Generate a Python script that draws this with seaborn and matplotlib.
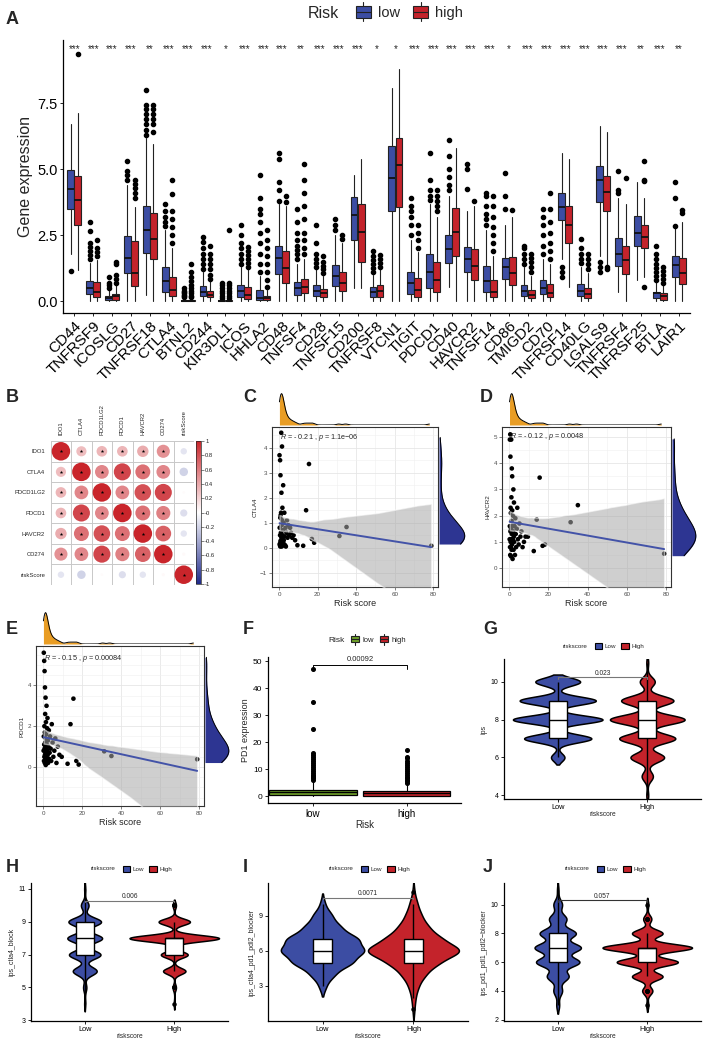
import numpy as np
import pandas as pd
import matplotlib
matplotlib.use("Agg")
import matplotlib.pyplot as plt
import seaborn as sns
from matplotlib import font_manager
from matplotlib.patches import Rectangle, Patch
from matplotlib.lines import Line2D
from matplotlib.legend_handler import HandlerBase
from matplotlib.colors import LinearSegmentedColormap, Normalize
from matplotlib.cm import ScalarMappable
from matplotlib.ticker import MultipleLocator

sns.set_theme(style="white")
plt.rcParams["font.family"] = ["Liberation Sans", "DejaVu Sans"]
plt.rcParams["mathtext.fontset"] = "custom"
plt.rcParams["mathtext.it"] = "Liberation Sans:italic"
plt.rcParams["mathtext.rm"] = "Liberation Sans"


def has_font(name):
    try:
        font_manager.findfont(name, fallback_to_default=False)
        return True
    except Exception:
        return False


HAS_NARROW = has_font("Liberation Sans Narrow")
NARROW = ["Liberation Sans Narrow", "Liberation Sans", "DejaVu Sans"] if HAS_NARROW else ["Liberation Sans", "DejaVu Sans"]

# ---------------- data: panel A ----------------
genes = ["CD44", "TNFRSF9", "ICOSLG", "CD27", "TNFRSF18", "CTLA4", "BTNL2", "CD244",
         "KIR3DL1", "ICOS", "HHLA2", "CD48", "TNFSF4", "CD28", "TNFSF15", "CD200",
         "TNFRSF8", "VTCN1", "TIGIT", "PDCD1", "CD40", "HAVCR2", "TNFSF14", "CD86",
         "TMIGD2", "CD70", "TNFRSF14", "CD40LG", "LGALS9", "TNFRSF4", "TNFRSF25", "BTLA", "LAIR1"]
signif = ["***", "***", "***", "***", "**", "***", "***", "***", "*", "***", "***", "***", "**",
          "***", "***", "***", "*", "*", "***", "***", "***", "***", "***", "*", "***", "***",
          "***", "***", "***", "***", "**", "***", "**"]
low_q1 = [3.51, 0.27, 0.04, 1.07, 1.84, 0.33, 0.0, 0.2, 0.0, 0.16, 0.04, 1.02, 0.25, 0.2, 0.57, 2.31,
          0.16, 3.41, 0.27, 0.48, 1.46, 1.12, 0.35, 0.83, 0.19, 0.27, 3.09, 0.2, 3.74, 1.33, 2.1, 0.1, 0.92]
low_med = [4.27, 0.48, 0.1, 1.62, 2.69, 0.78, 0.01, 0.34, 0.01, 0.37, 0.1, 1.62, 0.48, 0.39, 0.96, 3.28,
           0.33, 4.68, 0.67, 1.09, 1.97, 1.58, 0.77, 1.3, 0.37, 0.5, 3.57, 0.38, 4.58, 1.77, 2.6, 0.29, 1.36]
low_q3 = [4.96, 0.76, 0.2, 2.46, 3.6, 1.3, 0.04, 0.56, 0.03, 0.63, 0.44, 2.1, 0.72, 0.6, 1.36, 3.95,
          0.52, 5.87, 1.09, 1.77, 2.5, 2.06, 1.33, 1.65, 0.63, 0.8, 4.1, 0.64, 5.11, 2.4, 3.22, 0.35, 1.7]
low_wlo = [1.8, 0, 0, 0, 0.25, 0, 0, 0, 0, 0, 0, 0, 0, 0, 0, 0.5, 0, 0, 0, 0, 0.55, 0, 0, 0, 0, 0,
           1.6, 0, 1.7, 0.35, 0.8, 0, 0]
low_whi = [6.7, 1.45, 0.42, 4.4, 6.2, 2.7, 0.1, 1.1, 0.08, 1.3, 0.95, 3.7, 1.4, 1.2, 2.5, 4.8, 1.0,
           8.09, 2.3, 3.7, 4.0, 3.4, 2.7, 2.9, 1.3, 1.6, 5.6, 1.3, 6.63, 3.9, 4.5, 0.72, 2.8]
low_out = [[1.13], [1.6, 1.75, 1.9, 2.05, 2.2, 2.65, 3.0], [0.5, 0.6, 0.7, 0.9],
           [4.6, 4.8, 4.95, 5.3], [6.3, 6.5, 6.7, 6.9, 7.1, 7.3, 7.45, 8.0], [2.85, 3.0, 3.2, 3.4, 3.7],
           [0.15, 0.2, 0.25, 0.3, 0.35, 0.4, 0.5], [1.2, 1.4, 1.6, 1.8, 2.0, 2.25, 2.45],
           [0.12, 0.2, 0.3, 0.4, 0.5, 0.6, 0.7], [1.4, 1.6, 1.8, 2.0, 2.2, 2.5, 2.9],
           [1.1, 1.4, 1.8, 2.2, 2.6, 3.0, 3.3, 3.5, 3.9, 4.8], [3.8, 4.2, 4.5, 5.4, 5.6],
           [1.6, 1.8, 1.95, 2.1, 2.3, 2.6, 3.0, 3.5], [1.3, 1.45, 1.6, 1.8, 2.2, 2.9], [2.7, 2.9, 3.1],
           [], [1.1, 1.25, 1.4, 1.55, 1.7, 1.9], [], [2.5, 2.9, 3.2, 3.4, 3.6, 3.9],
           [3.85, 4.0, 4.2, 4.6, 5.6], [4.2, 4.4, 4.7, 5.0, 5.5, 6.1], [4.25, 5.0, 5.2],
           [2.9, 3.1, 3.3, 3.6, 4.0, 4.1], [3.5, 4.0, 4.85], [1.4, 1.6, 1.8, 2.0, 2.1],
           [1.8, 2.1, 2.5, 2.9, 3.2, 3.5], [0.9, 1.1, 1.3], [1.45, 1.6, 1.8, 2.0, 2.35],
           [1.1, 1.3, 1.5], [4.1, 4.2, 4.95], [], [0.8, 0.95, 1.1, 1.25, 1.4, 1.6, 1.8, 2.1], [2.85, 3.9, 4.5]]
high_q1 = [2.9, 0.16, 0.05, 0.57, 1.58, 0.2, 0.0, 0.14, 0.0, 0.08, 0.03, 0.67, 0.32, 0.14, 0.37, 1.49,
           0.16, 3.55, 0.16, 0.33, 1.7, 0.82, 0.16, 0.63, 0.1, 0.14, 2.22, 0.1, 3.41, 1.01, 2.0, 0.04, 0.64]
high_med = [3.85, 0.33, 0.18, 1.07, 2.37, 0.44, 0.01, 0.25, 0.01, 0.24, 0.1, 1.26, 0.54, 0.29, 0.69, 2.63,
            0.39, 5.15, 0.42, 0.8, 2.63, 1.33, 0.34, 1.07, 0.23, 0.32, 2.88, 0.27, 4.14, 1.55, 2.44, 0.2, 1.05]
high_q3 = [4.75, 0.73, 0.28, 2.27, 3.35, 0.92, 0.04, 0.39, 0.03, 0.54, 0.19, 1.9, 0.83, 0.47, 1.11, 3.7,
           0.61, 6.17, 0.86, 1.5, 3.52, 1.97, 0.8, 1.68, 0.44, 0.64, 3.62, 0.48, 4.75, 2.1, 2.9, 0.29, 1.64]
high_wlo = [1.17, 0, 0, 0, 0, 0, 0, 0, 0, 0, 0, 0, 0, 0, 0, 0.5, 0, 0, 0, 0, 0, 0, 0, 0, 0, 0,
            0.55, 0, 1.35, 0, 0.9, 0, 0]
high_whi = [7.13, 1.55, 0.6, 3.57, 5.95, 2.0, 0.1, 0.75, 0.08, 1.2, 0.42, 3.6, 1.6, 0.95, 2.2, 5.4, 1.2,
            8.81, 1.85, 3.2, 5.8, 3.6, 1.7, 3.2, 0.95, 1.4, 5.4, 1.05, 6.4, 3.7, 3.9, 0.6, 3.0]
high_out = [[9.38], [1.7, 1.85, 2.0, 2.3], [0.7, 0.85, 1.0, 1.4, 1.5], [3.9, 4.1, 4.3, 4.45, 4.6],
            [6.4, 6.7, 6.9, 7.1, 7.3, 7.45], [2.2, 2.5, 2.8, 3.1, 3.4, 4.05, 4.6],
            [0.15, 0.2, 0.3, 0.4, 0.5, 0.6, 0.75, 0.9, 1.1, 1.4], [0.85, 1.0, 1.2, 1.4, 1.6, 1.8, 2.1],
            [0.12, 0.2, 0.3, 0.4, 0.5, 0.6, 0.7, 2.7], [1.3, 1.45, 1.6, 1.75, 1.9, 2.05],
            [0.55, 0.8, 1.1, 1.4, 1.7, 2.0, 2.3, 2.7], [3.75, 4.0],
            [1.8, 2.0, 2.3, 2.6, 3.1, 3.6, 4.1, 4.6, 5.2], [1.05, 1.2, 1.35, 1.5, 1.7], [2.35, 2.5],
            [], [1.3, 1.45, 1.6, 1.75], [], [2.0, 2.3, 2.6, 2.9], [3.4, 3.6, 3.8, 4.0, 4.2], [],
            [3.8], [1.9, 2.2, 2.5, 2.8, 3.2, 3.6, 4.0], [3.45], [1.1, 1.3, 1.5, 1.65, 1.8],
            [1.6, 1.9, 2.2, 2.6, 3.0, 3.5, 4.1], [], [1.2, 1.4, 1.6, 1.8], [1.2, 1.3], [4.65],
            [0.55, 4.55, 4.6, 5.3], [0.7, 0.85, 1.0, 1.15, 1.3], [3.35, 3.45]]

# ---------------- data: panel B ----------------
corr_labels = ["IDO1", "CTLA4", "PDCD1LG2", "PDCD1", "HAVCR2", "CD274", "riskScore"]
corr_matrix = [
    [1.00, 0.30, 0.33, 0.33, 0.38, 0.50, -0.12],
    [0.30, 1.00, 0.55, 0.85, 0.65, 0.55, -0.21],
    [0.33, 0.55, 1.00, 0.55, 0.80, 0.85, 0.02],
    [0.33, 0.85, 0.55, 1.00, 0.65, 0.58, -0.15],
    [0.38, 0.65, 0.80, 0.65, 1.00, 0.72, -0.12],
    [0.50, 0.55, 0.85, 0.58, 0.72, 1.00, 0.03],
    [-0.12, -0.21, 0.02, -0.15, -0.12, 0.03, 1.00],
]
corr_star = [
    [1, 1, 1, 1, 1, 1, 0], [1, 1, 1, 1, 1, 1, 0], [1, 1, 1, 1, 1, 1, 0], [1, 1, 1, 1, 1, 1, 0],
    [1, 1, 1, 1, 1, 1, 0], [1, 1, 1, 1, 1, 1, 0], [0, 0, 0, 0, 0, 0, 1]]

# ---------------- data: panels C, D, E ----------------
risk_score = [0.2, 0.3, 0.3, 0.4, 0.5, 0.5, 0.6, 0.6, 0.7, 0.7, 0.8, 0.8, 0.9, 0.9, 1.0, 1.0, 1.1, 1.1,
              1.2, 1.2, 1.3, 1.3, 1.4, 1.5, 1.5, 1.6, 1.7, 1.8, 1.9, 2.0, 2.1, 2.2, 2.3, 2.4, 2.5, 2.7,
              2.9, 3.1, 3.3, 3.5, 3.8, 4.1, 4.4, 4.8, 5.2, 5.7, 6.2, 6.8, 7.5, 8.3,
              9.5, 12.5, 14.0, 15.5, 17.0, 18.2, 31.3, 35.0, 79.0]
ctla4 = [3.7, 0.15, 0.8, 0.1, 3.5, 0.5, 0.05, 1.2, 2.9, 0.25, 0.1, 1.3, 0.6, 0.3, 0.1, 1.4, 4.6, 0.45,
         0.15, 2.2, 0.9, 0.05, 0.4, 4.05, 1.1, 0.1, 1.6, 0.5, 0.25, 0.7, 2.5, 0.1, 1.0, 0.3, 0.15, 1.4,
         0.45, 0.1, 0.8, 0.05, 0.6, 1.1, 0.4, 0.9, 0.5, 0.8, 0.6, 0.4, 0.5, 0.3,
         0.1, 0.08, 1.5, 3.35, 0.35, 0.2, 0.47, 0.83, 0.08]
havcr2 = [1.1, 4.9, 1.6, 0.8, 5.1, 0.5, 4.25, 1.4, 2.3, 1.0, 0.8, 2.1, 1.5, 0.45, 4.9, 1.1, 2.7, 1.4,
          0.7, 1.8, 1.3, 3.8, 0.9, 3.5, 2.2, 1.6, 0.35, 1.1, 2.0, 1.4, 3.0, 0.7, 1.2, 2.5, 1.0, 1.6,
          0.5, 1.9, 1.3, 0.8, 1.5, 2.3, 1.1, 0.9, 1.7, 1.2, 1.4, 0.8, 1.0, 1.2,
          1.2, 0.65, 1.85, 3.45, 0.85, 0.9, 1.75, 2.4, 0.55]
pdcd1 = [0.8, 5.6, 1.5, 0.3, 5.2, 1.1, 0.5, 2.0, 4.7, 0.9, 0.2, 1.7, 3.9, 0.6, 1.2, 2.6, 0.4, 1.0,
         3.4, 0.7, 1.4, 0.1, 2.2, 0.9, 1.6, 0.5, 3.0, 1.1, 0.3, 1.9, 0.8, 2.4, 0.6, 1.3, 0.2, 1.0,
         1.8, 0.4, 0.7, 1.5, 0.9, 0.3, 2.1, 1.2, 0.5, 0.8, 1.4, 0.2, 1.0, 0.6,
         0.5, 0.16, 2.1, 3.35, 0.3, 0.12, 0.77, 0.54, 0.38]

# ---------------- data: panel F ----------------
pd1_groups = ["low", "high"]
pd1_q1 = [0.4, 0.2]
pd1_med = [1.6, 1.2]
pd1_q3 = [2.5, 2.0]
pd1_wlo = [0.0, 0.0]
pd1_whi = [5.8, 4.6]
pd1_out = [[6.2, 6.6, 7.0, 7.5, 8.0, 8.6, 9.2, 10.0, 10.8, 11.5, 12.3, 13.0, 13.8, 14.5, 15.3, 16.0, 25.0, 35.0, 47.0],
           [5.0, 5.5, 6.0, 6.6, 7.2, 7.9, 8.6, 9.3, 10.0, 10.8, 11.6, 12.4, 13.2, 14.0, 14.5, 17.0]]

# ---------------- data: panels G-J (counts of samples per IPS score) ----------------
G_scores = [4, 5, 6, 7, 8, 9, 10, 11]
G_low = [0, 0, 6, 30, 40, 34, 20, 0]
G_high = [1, 6, 18, 30, 40, 28, 8, 1]
H_scores = [3, 4, 5, 6, 7, 8, 9, 10, 11]
H_low = [0, 1, 3, 22, 29, 32, 30, 7, 1]
H_high = [0, 1, 3, 20, 24, 80, 28, 3, 0]
I_scores = [1, 2, 3, 4, 5, 6, 7, 8, 9, 10, 11]
I_low = [0, 0, 3, 10, 25, 35, 30, 15, 8, 2, 0]
I_high = [1, 2, 5, 12, 25, 50, 28, 15, 8, 4, 1]
J_scores = [2, 3, 4, 5, 6, 7, 8, 9, 10, 11]
J_low = [0, 2, 6, 15, 30, 32, 25, 12, 6, 1]
J_high = [0, 1, 5, 15, 30, 44, 15, 4, 1, 0]

# ---------------- styling ----------------
BLUE = "#3C4DA3"
RED = "#C4232B"
GREEN = "#6FA12A"
ORANGE = "#E99D24"
NAVY = "#2D3592"
LINEBLUE = "#4353A8"

W, H = 706, 1039
fig = plt.figure(figsize=(W / 100, H / 100), dpi=100)
fig.patch.set_facecolor("white")


def add_ax(x0, y0, x1, y1):
    return fig.add_axes([x0 / W, 1 - y1 / H, (x1 - x0) / W, (y1 - y0) / H])


def panel_label(x, y, s):
    fig.text(x / W, 1 - y / H, s, fontsize=13, fontweight="bold", ha="left", va="center")


class BoxKey(HandlerBase):
    def create_artists(self, legend, orig_handle, xdescent, ydescent, width, height, fontsize, trans):
        fc = orig_handle.get_facecolor()
        x0, y0 = -xdescent, -ydescent
        cx = x0 + width / 2
        whisk = Line2D([cx, cx], [y0 - 0.35 * height, y0 + 1.35 * height], color="#222222", lw=0.8, transform=trans)
        rect = Rectangle((x0, y0), width, height, facecolor=fc, edgecolor="#222222", lw=0.8, transform=trans)
        med = Line2D([x0, x0 + width], [y0 + height / 2] * 2, color="#222222", lw=0.8, transform=trans)
        return [whisk, rect, med]


def classic_axes(ax, fs):
    for s in ["top", "right"]:
        ax.spines[s].set_visible(False)
    for s in ["left", "bottom"]:
        ax.spines[s].set_color("black")
        ax.spines[s].set_linewidth(0.9)
    ax.tick_params(axis="both", direction="out", length=2.5, width=0.6, labelsize=fs, pad=1.5,
                   colors="black", bottom=True, left=True)
    ax.set_facecolor("white")


# ================= Panel A =================
panel_label(6, 19, "A")
axA = add_ax(63, 40, 690, 313)
nA = len(genes)
posA = np.arange(nA)


def make_stats(q1, med, q3, lo, hi, out):
    return [dict(q1=a, med=b, q3=c, whislo=d, whishi=e, fliers=f) for a, b, c, d, e, f in zip(q1, med, q3, lo, hi, out)]


for stats, off, col in [(make_stats(low_q1, low_med, low_q3, low_wlo, low_whi, low_out), -0.1875, BLUE),
                        (make_stats(high_q1, high_med, high_q3, high_wlo, high_whi, high_out), 0.1875, RED)]:
    axA.bxp(stats, positions=posA + off, widths=0.36, patch_artist=True, showcaps=False, manage_ticks=False,
            boxprops=dict(facecolor=col, edgecolor="#222222", linewidth=0.8),
            medianprops=dict(color="#111111", linewidth=1.3),
            whiskerprops=dict(color="#222222", linewidth=0.8),
            flierprops=dict(marker="o", markerfacecolor="black", markeredgecolor="black", markersize=3.0))
axA.set_xlim(-0.6, nA - 0.4)
axA.set_ylim(-0.45, 9.9)
axA.set_xticks(posA)
axA.set_yticks([0, 2.5, 5, 7.5])
classic_axes(axA, 11)
axA.set_yticklabels(["0.0", "2.5", "5.0", "7.5"], family=NARROW, fontsize=12 if HAS_NARROW else 10.5)
axA.set_xticklabels(genes, rotation=45, ha="right", rotation_mode="anchor", family=NARROW,
                    fontsize=13.5 if HAS_NARROW else 11)
axA.set_ylabel("Gene expression", fontsize=13 if HAS_NARROW else 11.5, family=NARROW, labelpad=3)
for i, s in enumerate(signif):
    axA.text(i, 9.55, s, ha="center", va="center", fontsize=7)
fig.text(308 / W, 1 - 13 / H, "Risk", fontsize=13 if HAS_NARROW else 11.5, family=NARROW, va="center", ha="left")
fig.legend([Patch(facecolor=BLUE), Patch(facecolor=RED)], ["low", "high"], loc="center left",
           bbox_to_anchor=(343 / W, 1 - 13 / H), ncol=2, frameon=False, handlelength=1.0, handleheight=0.8,
           handletextpad=0.5, columnspacing=0.9, handler_map={Patch: BoxKey()},
           prop=dict(family=NARROW, size=11.5 if HAS_NARROW else 10.5))

# ================= Panel B =================
panel_label(6, 397, "B")
axB = add_ax(50.7, 441, 194, 585)
cmap = LinearSegmentedColormap.from_list("corr", ["#1F2A8A", "#FFFFFF", "#C9252B"])
nB = len(corr_labels)
cm = np.array(corr_matrix)
rows, cols = np.meshgrid(np.arange(nB), np.arange(nB), indexing="ij")
dfB = pd.DataFrame({"row": rows.ravel(), "col": cols.ravel(), "r": cm.ravel(), "absr": np.abs(cm).ravel()})
sns.scatterplot(data=dfB, x="col", y="row", hue="r", palette=cmap, hue_norm=(-1, 1), size="absr",
                sizes=(0, 178), size_norm=(0, 1), legend=False, edgecolor="none", linewidth=0, ax=axB)
st = np.array(corr_star).ravel() == 1
axB.scatter(cols.ravel()[st], rows.ravel()[st], marker="*", s=7, color="black", linewidths=0, zorder=5)
for k in range(nB + 1):
    axB.axhline(k - 0.5, color="#C8C8C8", lw=0.7, zorder=0)
    axB.axvline(k - 0.5, color="#C8C8C8", lw=0.7, zorder=0)
axB.set_xlim(-0.5, nB - 0.5)
axB.set_ylim(nB - 0.5, -0.5)
axB.set_xticks(range(nB))
axB.set_yticks(range(nB))
axB.set_xticklabels(corr_labels, rotation=90, fontsize=4.2)
axB.set_yticklabels(corr_labels, fontsize=4.2)
axB.xaxis.tick_top()
axB.tick_params(length=0, pad=4)
axB.set_xlabel("")
axB.set_ylabel("")
for s in axB.spines.values():
    s.set_visible(False)
caxB = add_ax(196, 441, 201, 584)
cb = fig.colorbar(ScalarMappable(norm=Normalize(-1, 1), cmap=cmap), cax=caxB)
tks = np.round(np.arange(-1, 1.01, 0.2), 1)
cb.set_ticks(tks)
cb.set_ticklabels([f"{t:g}" for t in tks])
cb.ax.tick_params(labelsize=4.2, length=2, width=0.4, pad=1)
cb.outline.set_linewidth(0.5)


# ================= Panels C, D, E =================
def scatter_panel(main, top, right, yvals, ylab, rtext, ylim, yticks, rtext_y):
    ax = add_ax(*main)
    ax.set_facecolor("white")
    x = np.array(risk_score)
    y = np.array(yvals)
    sns.scatterplot(x=x, y=y, ax=ax, color="black", s=11, edgecolor="none", linewidth=0, zorder=2)
    ncoll = len(ax.collections)
    sns.regplot(x=x, y=y, ax=ax, scatter=False, ci=95, n_boot=400, seed=3, color="grey",
                line_kws=dict(lw=0, alpha=0))
    for c in ax.collections[ncoll:]:
        c.set_facecolor("#A8A8A8")
        c.set_alpha(0.55)
        c.set_zorder(3)
    sns.regplot(x=x, y=y, ax=ax, scatter=False, ci=None, color=LINEBLUE, line_kws=dict(lw=1.4, zorder=4))
    ax.set_xlim(-3.7, 82.5)
    ax.set_ylim(*ylim)
    ax.set_xticks([0, 20, 40, 60, 80])
    ax.set_yticks(yticks)
    ax.xaxis.set_minor_locator(MultipleLocator(10))
    ax.yaxis.set_minor_locator(MultipleLocator(0.5 if ylim[1] - ylim[0] < 8 else 1))
    ax.grid(True, which="major", color="#E6E6E6", lw=0.6)
    ax.grid(True, which="minor", color="#F0F0F0", lw=0.4)
    ax.set_axisbelow(True)
    for s in ax.spines.values():
        s.set_color("#333333")
        s.set_linewidth(0.8)
    ax.tick_params(axis="both", which="major", length=2, width=0.5, labelsize=4.5, colors="#4D4D4D",
                   pad=1.5, bottom=True, left=True)
    ax.tick_params(axis="both", which="minor", length=0)
    ax.set_xlabel("Risk score", fontsize=6.5, labelpad=1.5)
    ax.set_ylabel(ylab, fontsize=4.5, labelpad=2)
    ax.text(0.5, rtext_y, rtext, fontsize=5.2, ha="left", va="center")
    axt = add_ax(*top)
    sns.kdeplot(x=x, ax=axt, fill=True, color=ORANGE, alpha=1, bw_adjust=0.22, cut=0, linewidth=0)
    sns.kdeplot(x=x, ax=axt, fill=False, color="black", bw_adjust=0.22, cut=0, linewidth=0.7)
    axt.set_xlim(-3.7, 82.5)
    axt.set_ylim(bottom=0)
    axt.axis("off")
    axr = add_ax(*right)
    sns.kdeplot(y=y, ax=axr, fill=True, color=NAVY, alpha=1, cut=0, linewidth=0)
    sns.kdeplot(y=y, ax=axr, fill=False, color="black", cut=0, linewidth=0.7)
    axr.set_ylim(*ylim)
    axr.set_xlim(left=0)
    axr.axis("off")
    return ax


panel_label(243, 397, "C")
scatter_panel((272, 427, 438, 587), (272, 392, 436, 425), (439, 432, 466, 582), ctla4, "CTLA4",
              "$R$ = - 0.21 , $p$ = 1.1e\u221206", (-1.57, 4.83), [-1, 0, 1, 2, 3, 4], 4.4)
panel_label(480, 397, "D")
scatter_panel((502, 427, 671, 587), (502, 392, 668, 425), (672, 432, 697, 582), havcr2, "HAVCR2",
              "$R$ = - 0.12 , $p$ = 0.0048", (-0.72, 5.38), [0, 1, 2, 3, 4, 5], 5.0)
panel_label(6, 629, "E")
scatter_panel((36, 646, 204, 806), (36, 611, 200, 644), (205, 651, 230, 801), pdcd1, "PDCD1",
              "$R$ = - 0.15 , $p$ = 0.00084", (-1.91, 5.93), [0, 2, 4], 5.3)

# ================= Panel F =================
panel_label(243, 629, "F")
axF = add_ax(268, 657, 461, 803)
statsF = make_stats(pd1_q1, pd1_med, pd1_q3, pd1_wlo, pd1_whi, pd1_out)
for i, (st_, col) in enumerate(zip(statsF, [GREEN, RED])):
    axF.bxp([st_], positions=[i], widths=0.93, patch_artist=True, showcaps=False, manage_ticks=False,
            boxprops=dict(facecolor=col, edgecolor="black", linewidth=0.9),
            medianprops=dict(color="black", linewidth=1.0),
            whiskerprops=dict(color="black", linewidth=0.8),
            flierprops=dict(marker="o", markerfacecolor="black", markeredgecolor="black", markersize=2.6))
axF.set_xlim(-0.48, 1.58)
axF.set_ylim(-2.5, 51.6)
axF.set_xticks([0, 1])
axF.set_xticklabels(pd1_groups)
axF.set_yticks([0, 10, 20, 30, 40, 50])
classic_axes(axF, 6)
axF.tick_params(axis="x", labelsize=7)
axF.set_xlabel("Risk", fontsize=7, labelpad=1)
axF.set_ylabel("PD1 expression", fontsize=6.5, labelpad=2)
axF.plot([0, 0, 1, 1], [47.3, 48.8, 48.8, 47.3], color="black", lw=0.7)
axF.text(0.5, 49.2, "0.00092", ha="center", va="bottom", fontsize=5.5)
fig.text(328 / W, 1 - 640 / H, "Risk", fontsize=6, va="center", ha="left")
fig.legend([Patch(facecolor=GREEN), Patch(facecolor=RED)], ["low", "high"], loc="center left",
           bbox_to_anchor=(344 / W, 1 - 640 / H), ncol=2, frameon=False, handlelength=1.0, handleheight=0.9,
           handletextpad=0.5, columnspacing=0.8, fontsize=5.5, handler_map={Patch: BoxKey()})


# ================= Panels G-J =================
def violin_panel(box, scores, lowc, highc, ylab, ylim, yticks, pval, py, bw, pcolor, leg_x, leg_y):
    ax = add_ax(*box)
    low = np.repeat(scores, lowc)
    high = np.repeat(scores, highc)
    df = pd.DataFrame({"riskscore": ["Low"] * len(low) + ["High"] * len(high),
                       "val": np.concatenate([low, high]).astype(float)})
    sns.violinplot(data=df, x="riskscore", y="val", hue="riskscore", order=["Low", "High"],
                   hue_order=["Low", "High"], palette={"Low": BLUE, "High": RED}, legend=False,
                   inner=None, density_norm="area", common_norm=True, bw_adjust=bw, cut=1.8, gridsize=300,
                   linewidth=1.1, linecolor="black", saturation=1, width=1.0, dodge=False, ax=ax)
    sns.boxplot(data=df, x="riskscore", y="val", order=["Low", "High"], color="white", width=0.2,
                linewidth=1.0, linecolor="black", fliersize=2.2, saturation=1, showcaps=False, ax=ax,
                flierprops=dict(marker="o", markerfacecolor="black", markeredgecolor="black"))
    ax.set_xlim(-0.6, 1.6)
    ax.set_ylim(*ylim)
    ax.set_yticks(yticks)
    classic_axes(ax, 5)
    ax.tick_params(axis="x", labelsize=5.3, pad=0.8)
    ax.set_xlabel("riskscore", fontsize=4.8, labelpad=0.5)
    ax.set_ylabel(ylab, fontsize=5, labelpad=2)
    d = (ylim[1] - ylim[0]) * 0.012
    ax.plot([0, 0, 1, 1], [py - d, py, py, py - d], color=pcolor, lw=0.8)
    ax.text(0.5, py + d * 0.3, pval, ha="center", va="bottom", fontsize=4.8)
    fig.text(leg_x / W, 1 - leg_y / H, "riskscore", fontsize=4.5, va="center", ha="left")
    fig.legend([Patch(facecolor=BLUE, edgecolor="black", lw=0.8), Patch(facecolor=RED, edgecolor="black", lw=0.8)],
               ["Low", "High"], loc="center left", bbox_to_anchor=((leg_x + 26) / W, 1 - leg_y / H), ncol=2,
               frameon=False, handlelength=1.2, handleheight=1.2, handletextpad=0.4, columnspacing=0.8,
               fontsize=4.5)
    return ax


panel_label(483, 629, "G")
violin_panel((504, 659, 701, 799), G_scores, G_low, G_high, "ips", (3.8, 11.2), [4, 6, 8, 10],
             "0.023", 10.24, 0.5, "#777777", 563, 646)
panel_label(6, 867, "H")
violin_panel((31, 883, 228, 1021), H_scores, H_low, H_high, "ips_ctla4_block", (2.96, 11.36), [3, 5, 7, 9, 11],
             "0.006", 10.29, 0.5, "#777777", 91, 869)
panel_label(243, 867, "I")
violin_panel((268, 883, 468, 1021), I_scores, I_low, I_high, "ips_ctla4_pd1_pdl2_blocker", (0.0, 11.8),
             [3, 6, 9], "0.0071", 10.56, 0.9, "#777777", 329, 869)
panel_label(483, 867, "J")
violin_panel((504, 883, 701, 1021), J_scores, J_low, J_high, "ips_pd1_pdl1_pdl2\u2212blocker", (1.9, 11.5),
             [2, 4, 6, 8, 10], "0.057", 10.29, 0.55, "#333333", 565, 869)

fig.savefig("out.png", dpi=100, facecolor="white")
